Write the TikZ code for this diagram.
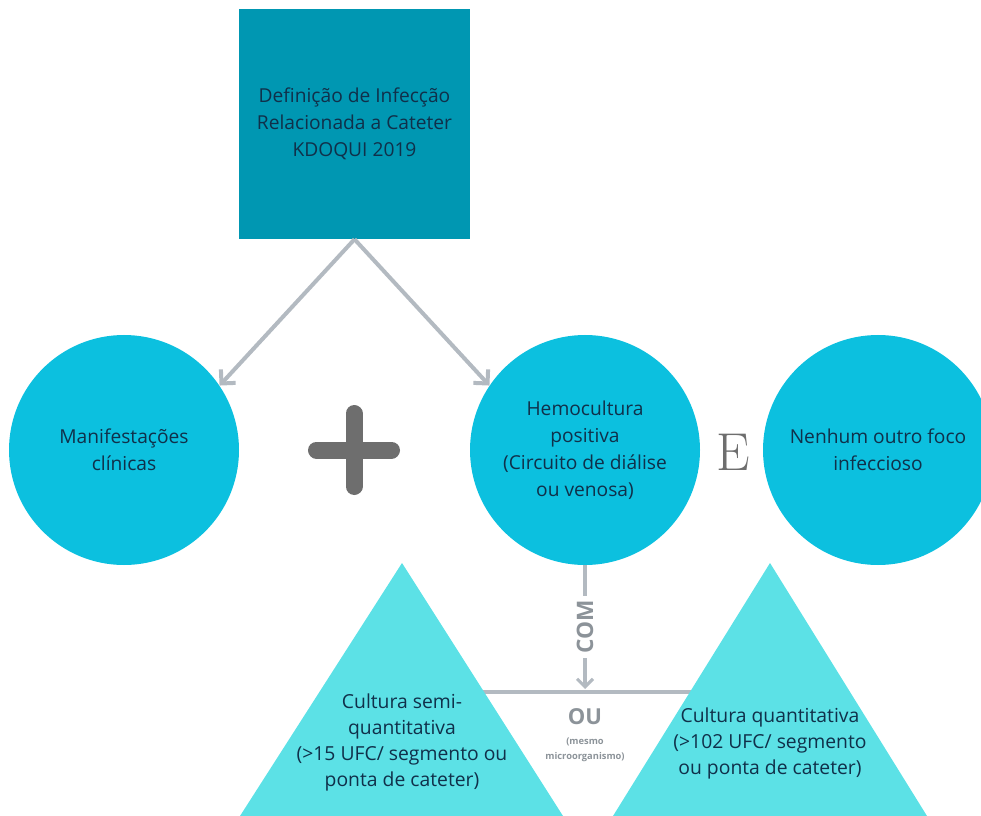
\documentclass[tikz,border=0pt]{standalone}
\usepackage{fontspec}
\setsansfont{Open Sans}
\usepackage{tikz}
\usetikzlibrary{arrows.meta}
\definecolor{Teal}{HTML}{0097B2}
\definecolor{Cyan}{HTML}{0CC0DF}
\definecolor{Aqua}{HTML}{5CE1E6}
\definecolor{Ink}{HTML}{10304A}
\definecolor{Link}{HTML}{B3BAC1}
\definecolor{Sign}{HTML}{6E6E6E}
\definecolor{Note}{HTML}{8C9399}

\begin{document}
\begin{tikzpicture}[x=0.75pt,y=-0.75pt,
  body/.style={align=center,text=Ink,font=\sffamily\fontsize{14.4}{20.3}\selectfont},
  defbox/.style={body,rectangle,fill=Teal,minimum width=173.25pt,minimum height=172.5pt,inner sep=0pt},
  bubble/.style={body,circle,fill=Cyan,minimum size=172.5pt,inner sep=0pt},
  tritext/.style={body,font=\sffamily\fontsize{14.5}{19.5}\selectfont},
  link/.style={Link,line width=3pt,-{Straight Barb[length=7.5pt,width=15pt]}},
  plus/.style={Sign,line width=12.75pt,line cap=round}]
  \useasboundingbox (0,0) rectangle (981,816);
  \clip (0,0) rectangle (981,816);
  \node[defbox] (def) at (354.5,124) {Definição de Infecção\\Relacionada a Cateter\\KDOQUI 2019};
  \node[bubble] (manif) at (124,450) {Manifestações\\clínicas};
  \node[bubble] (hemo) at (585,450) {Hemocultura\\positiva\\(Circuito de diálise\\ou venosa)};
  \node[bubble] (foco) at (878,450) {Nenhum outro foco\\infeccioso};
  \draw[link] (def.south) -- (manif.34);
  \draw[link] (def.south) -- (hemo.146);
  \draw[plus] (316.5,450) -- (391.5,450);
  \draw[plus] (354,413.5) -- (354,486.5);
  \node[text=Sign,font=\rmfamily\fontsize{40}{40}\selectfont] (andsign) at (733,452) {E};
  \coordinate (orL) at (470,692);
  \coordinate (orR) at (700,692);
  \coordinate (orM) at (585,689);
  \draw[Link,line width=3pt] (orL) -- (orR);
  \draw[Link,line width=2.3pt,-{Straight Barb[length=6pt,width=12pt]}] (hemo.south) -- node[fill=white,rotate=90,inner sep=3pt,text=Note,font=\sffamily\bfseries\fontsize{17}{17}\selectfont] (com) {COM} (orM);
  \fill[Aqua] (402,563) -- (240,816) -- (563,816) -- cycle;
  \fill[Aqua] (770,563) -- (613,816) -- (927,816) -- cycle;
  \node[tritext] (semi) at (402,742) {Cultura semi-\\quantitativa\\(>15 UFC/ segmento ou\\ponta de cateter)};
  \node[tritext] (quanti) at (770,743.5) {Cultura quantitativa\\(>102 UFC/ segmento\\ou ponta de cateter)};
  \node[text=Note,font=\sffamily\bfseries\fontsize{16.5}{16.5}\selectfont] (ou) at (585,717) {OU};
  \node[align=center,text=Note,font=\sffamily\bfseries\fontsize{7}{11}\selectfont] (same) at (585,750) {(mesmo\\microorganismo)};
\end{tikzpicture}
\end{document}
